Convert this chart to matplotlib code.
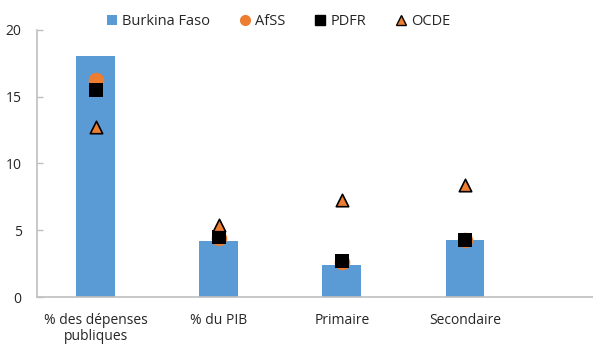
import numpy as np
import matplotlib.pyplot as plt
from matplotlib.lines import Line2D
from matplotlib.patches import Patch

plt.rcParams['font.family'] = ['Open Sans', 'DejaVu Sans']

# ── DATA ──────────────────────────────────────────────────────────────────
categories = ['% des dépenses\npubliques', '% du PIB', 'Primaire', 'Secondaire']
burkina = [18.0, 4.2, 2.4, 4.3]
afss    = [16.2, 4.4, 2.6, 4.3]
pdfr    = [15.5, 4.5, 2.7, 4.3]
ocde    = [12.7, 5.4, 7.3, 8.4]

BLUE   = '#5B9BD5'
ORANGE = '#ED7D31'
TXT    = '#262626'
AXC    = '#BFBFBF'

fig = plt.figure(figsize=(5.93, 3.48), dpi=100)
ax = fig.add_axes([0.0624, 0.1457, 0.9376, 0.7693])

x = np.arange(len(categories))
ax.bar(x, burkina, width=0.315, color=BLUE, zorder=2)
ax.scatter(x, afss, s=125, marker='o', color=ORANGE, linewidths=0, zorder=3)
ax.scatter(x, pdfr, s=100, marker='s', color='black', linewidths=0, zorder=4)
ax.scatter(x, ocde, s=80, marker='^', color=ORANGE, edgecolors='black',
           linewidths=1.2, zorder=5)

ax.set_xlim(-0.476, 4.04)
ax.set_ylim(0, 20)
ax.set_yticks([0, 5, 10, 15, 20])
ax.set_xticks(x)
ax.set_xticklabels(categories, fontsize=10, color=TXT, linespacing=1.15)
ax.tick_params(axis='x', length=0, pad=11)
ax.tick_params(axis='y', direction='in', length=4, width=1, color=AXC,
               labelsize=10, labelcolor=TXT, pad=11)
for side in ['top', 'right']:
    ax.spines[side].set_visible(False)
for side in ['left', 'bottom']:
    ax.spines[side].set_color(AXC)
    ax.spines[side].set_linewidth(1.2)

handles = [
    Patch(facecolor=BLUE, edgecolor='none'),
    Line2D([], [], marker='o', color=ORANGE, linestyle='none', markersize=7),
    Line2D([], [], marker='s', color='black', linestyle='none', markersize=7),
    Line2D([], [], marker='^', markerfacecolor=ORANGE, markeredgecolor='black',
           linestyle='none', markersize=7),
]
fig.legend(handles, ['Burkina Faso', 'AfSS', 'PDFR', 'OCDE'],
           loc='center', bbox_to_anchor=(0.47, 0.937), ncol=4, frameon=False,
           fontsize=10.5, labelcolor=TXT, handlelength=0.7, handleheight=0.7,
           handletextpad=0.35, columnspacing=2.05)

fig.savefig('out.png', dpi=100)
